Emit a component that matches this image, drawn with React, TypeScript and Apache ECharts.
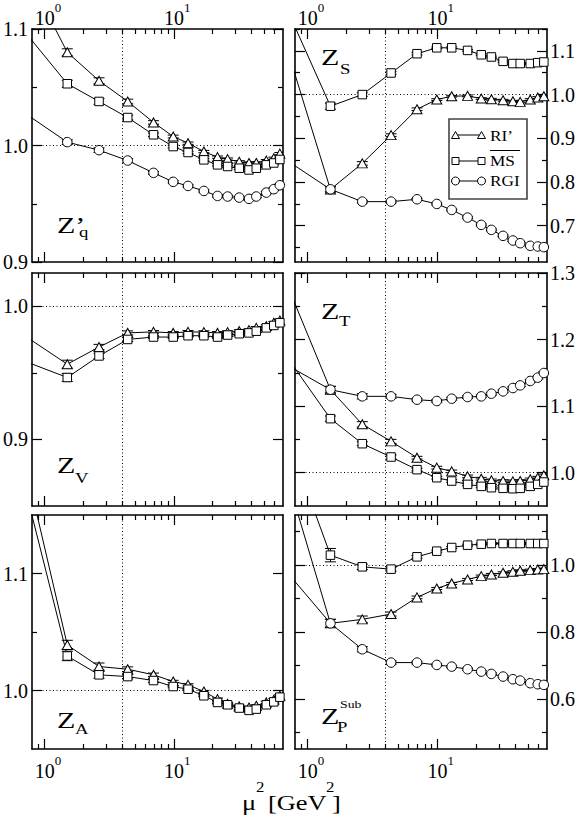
import React, { useEffect, useRef } from "react";
import * as echarts from "echarts";

// ---------- data ----------
// mu^2 [GeV^2] of the lattice momenta (first point lies left of the plotted range)
const MU2 = [0.6, 1.5, 2.64, 4.4, 6.97, 9.9, 12.9, 17.1, 21.8, 26.1, 32.1, 38.2, 43.5, 52, 59.4, 66.2];
const MU2_REF = 4;
const X_RANGE = [0.8, 70];
const X_MAJOR = [1, 10];
const X_MINOR = [0.9, 2, 3, 4, 5, 6, 7, 8, 9, 20, 30, 40, 50, 60];

// Z'_q
const ZQ_RI = [1.166, 1.080, 1.0556, 1.0378, 1.0198, 1.0077, 1.002, 0.9948, 0.990, 0.9883, 0.986, 0.985, 0.985, 0.987, 0.989, 0.993];
const ZQ_MS = [1.107, 1.053, 1.0378, 1.024, 1.0092, 0.9991, 0.994, 0.9877, 0.9834, 0.982, 0.9805, 0.979, 0.9805, 0.9834, 0.985, 0.988];
const ZQ_RGI = [1.033, 1.0029, 0.996, 0.9871, 0.9765, 0.9688, 0.9653, 0.961, 0.9567, 0.9562, 0.9553, 0.9542, 0.9562, 0.9596, 0.9625, 0.9659];
const ZQ_RI_ERR = [0, 0.003, 0.0025, 0.002, 0.0015, 0.0012, 0.001, 0.001, 0.001, 0.001, 0.001, 0.001, 0.001, 0.001, 0.001, 0.001];
const ZQ_MS_ERR = [0, 0.003, 0.0025, 0.002, 0.0015, 0.0012, 0.001, 0.001, 0.001, 0.001, 0.001, 0.001, 0.001, 0.001, 0.001, 0.001];
const ZQ_RGI_ERR = [0, 0.002, 0.002, 0.0015, 0.0012, 0.001, 0.001, 0.001, 0.001, 0.001, 0.001, 0.001, 0.001, 0.001, 0.001, 0.001];

// Z_S
const ZS_RI = [1.1665, 0.783, 0.8426, 0.9072, 0.9665, 0.9886, 0.9962, 0.997, 0.9909, 0.9894, 0.9871, 0.9848, 0.9833, 0.9886, 0.9932, 0.9962];
const ZS_MS = [1.2377, 0.9734, 1.0, 1.0494, 1.0935, 1.107, 1.107, 1.101, 1.091, 1.086, 1.076, 1.071, 1.071, 1.071, 1.073, 1.0745];
const ZS_RGI = [0.8616, 0.7833, 0.7551, 0.7551, 0.7605, 0.7498, 0.7361, 0.7186, 0.7019, 0.6905, 0.6768, 0.6662, 0.660, 0.654, 0.6525, 0.651];
const ZS_RI_ERR = [0, 0.006, 0.004, 0.003, 0.003, 0.002, 0.002, 0.002, 0.002, 0.002, 0.002, 0.002, 0.002, 0.002, 0.002, 0.002];
const ZS_MS_ERR = [0, 0.007, 0.004, 0.003, 0.003, 0.002, 0.002, 0.002, 0.002, 0.002, 0.002, 0.002, 0.002, 0.002, 0.002, 0.002];
const ZS_RGI_ERR = [0, 0.006, 0.003, 0.003, 0.002, 0.002, 0.002, 0.002, 0.002, 0.002, 0.002, 0.002, 0.002, 0.002, 0.002, 0.002];

// Z_V
const ZV_RI = [0.9823, 0.9565, 0.9694, 0.980, 0.9808, 0.980, 0.9808, 0.9806, 0.980, 0.9806, 0.9813, 0.9821, 0.9838, 0.9851, 0.9876, 0.9893];
const ZV_MS = [0.9613, 0.9465, 0.9627, 0.9751, 0.9769, 0.9769, 0.9779, 0.9779, 0.9769, 0.9784, 0.9794, 0.980, 0.9813, 0.9838, 0.9856, 0.9876];
const ZV_RI_ERR = [0, 0.003, 0.002, 0.0015, 0.001, 0.001, 0.001, 0.001, 0.001, 0.001, 0.001, 0.001, 0.001, 0.001, 0.001, 0.001];
const ZV_MS_ERR = [0, 0.003, 0.002, 0.0015, 0.001, 0.001, 0.001, 0.001, 0.001, 0.001, 0.001, 0.001, 0.001, 0.001, 0.001, 0.001];

// Z_T
const ZT_RI = [1.3127, 1.1247, 1.0727, 1.0471, 1.0226, 1.0076, 1.002, 0.9945, 0.991, 0.9885, 0.9875, 0.987, 0.9875, 0.990, 0.9925, 0.996];
const ZT_MS = [1.1911, 1.0812, 1.0436, 1.0236, 1.0046, 0.9925, 0.9875, 0.9825, 0.9795, 0.9775, 0.9765, 0.976, 0.9765, 0.9795, 0.9825, 0.986];
const ZT_RGI = [1.1687, 1.1247, 1.1147, 1.1147, 1.1097, 1.1077, 1.1112, 1.1137, 1.1147, 1.1187, 1.1222, 1.1272, 1.1312, 1.1378, 1.1428, 1.1498];
const ZT_RI_ERR = [0, 0.005, 0.004, 0.003, 0.002, 0.002, 0.002, 0.002, 0.002, 0.002, 0.002, 0.002, 0.002, 0.002, 0.002, 0.002];
const ZT_MS_ERR = [0, 0.004, 0.003, 0.003, 0.002, 0.002, 0.002, 0.002, 0.002, 0.002, 0.002, 0.002, 0.002, 0.002, 0.002, 0.002];
const ZT_RGI_ERR = [0, 0.005, 0.004, 0.003, 0.002, 0.002, 0.002, 0.002, 0.002, 0.002, 0.002, 0.002, 0.002, 0.002, 0.002, 0.002];

// Z_A
const ZA_RI = [1.228, 1.0389, 1.0205, 1.0182, 1.0134, 1.0077, 1.0048, 0.9991, 0.9926, 0.9886, 0.9864, 0.9855, 0.9869, 0.9898, 0.992, 0.9955];
const ZA_MS = [1.2045, 1.0295, 1.0134, 1.0119, 1.0085, 1.0034, 1.0011, 0.9955, 0.9898, 0.9878, 0.985, 0.983, 0.9841, 0.9878, 0.9903, 0.9943];
const ZA_RI_ERR = [0, 0.004, 0.003, 0.002, 0.0015, 0.001, 0.001, 0.001, 0.001, 0.001, 0.001, 0.001, 0.001, 0.001, 0.001, 0.001];
const ZA_MS_ERR = [0, 0.004, 0.003, 0.002, 0.0015, 0.001, 0.001, 0.001, 0.001, 0.001, 0.001, 0.001, 0.001, 0.001, 0.001, 0.001];

// Z_P^Sub
const ZP_RI = [1.346, 0.8259, 0.8378, 0.8537, 0.9035, 0.9303, 0.9453, 0.9572, 0.9672, 0.9721, 0.9771, 0.9801, 0.9831, 0.9851, 0.9871, 0.9881];
const ZP_MS = [1.454, 1.0299, 0.995, 0.988, 1.0249, 1.0418, 1.0527, 1.0597, 1.0627, 1.0647, 1.0647, 1.0647, 1.0647, 1.0647, 1.0647, 1.0647];
const ZP_RGI = [1.008, 0.8259, 0.7483, 0.7085, 0.7085, 0.7015, 0.6965, 0.6886, 0.6816, 0.6746, 0.6667, 0.6587, 0.6547, 0.6468, 0.6438, 0.6418];
const ZP_RI_ERR = [0, 0.012, 0.01, 0.006, 0.004, 0.003, 0.003, 0.003, 0.003, 0.003, 0.003, 0.003, 0.003, 0.003, 0.003, 0.003];
const ZP_MS_ERR = [0, 0.02, 0.008, 0.006, 0.004, 0.003, 0.003, 0.003, 0.003, 0.003, 0.003, 0.003, 0.003, 0.003, 0.003, 0.003];
const ZP_RGI_ERR = [0, 0.012, 0.008, 0.005, 0.004, 0.003, 0.003, 0.003, 0.003, 0.003, 0.003, 0.003, 0.003, 0.003, 0.003, 0.003];

// y-axis ranges and ticks
const ZQ_RANGE = [0.9, 1.1];
const ZQ_TICKS = [0.9, 1.0, 1.1];
const ZQ_MINOR = [0.95, 1.05];
const ZS_RANGE = [0.617, 1.15];
const ZS_TICKS = [0.7, 0.8, 0.9, 1.0, 1.1];
const ZS_MINOR = [0.65, 0.75, 0.85, 0.95, 1.05, 1.15];
const ZV_RANGE = [0.85, 1.025];
const ZV_TICKS = [0.9, 1.0];
const ZV_MINOR = [0.95];
const ZT_RANGE = [0.95, 1.3];
const ZT_TICKS = [1.0, 1.1, 1.2, 1.3];
const ZT_MINOR = [1.05, 1.15, 1.25];
const ZA_RANGE = [0.95, 1.15];
const ZA_TICKS = [1.0, 1.1];
const ZA_MINOR = [1.05];
const ZP_RANGE = [0.45, 1.15];
const ZP_TICKS = [0.6, 0.8, 1.0];
const ZP_MINOR = [0.5, 0.7, 0.9, 1.1];

const REF_LINE = 1.0;

// ---------- chart building ----------
const FONT = "Liberation Serif";
const lg = (v: number) => Math.log10(v);

type SeriesDef = { vals: number[]; err: number[]; kind: "tri" | "sq" | "ci"; name: string };
type PanelDef = { range: number[]; major: number[]; minor: number[]; series: SeriesDef[] };

const PANELS: PanelDef[] = [
  { range: ZQ_RANGE, major: ZQ_TICKS, minor: ZQ_MINOR, series: [
    { vals: ZQ_RI, err: ZQ_RI_ERR, kind: "tri", name: "RI’" },
    { vals: ZQ_MS, err: ZQ_MS_ERR, kind: "sq", name: "MS" },
    { vals: ZQ_RGI, err: ZQ_RGI_ERR, kind: "ci", name: "RGI" }] },
  { range: ZS_RANGE, major: ZS_TICKS, minor: ZS_MINOR, series: [
    { vals: ZS_RI, err: ZS_RI_ERR, kind: "tri", name: "RI’" },
    { vals: ZS_MS, err: ZS_MS_ERR, kind: "sq", name: "MS" },
    { vals: ZS_RGI, err: ZS_RGI_ERR, kind: "ci", name: "RGI" }] },
  { range: ZV_RANGE, major: ZV_TICKS, minor: ZV_MINOR, series: [
    { vals: ZV_RI, err: ZV_RI_ERR, kind: "tri", name: "RI’" },
    { vals: ZV_MS, err: ZV_MS_ERR, kind: "sq", name: "MS" }] },
  { range: ZT_RANGE, major: ZT_TICKS, minor: ZT_MINOR, series: [
    { vals: ZT_RI, err: ZT_RI_ERR, kind: "tri", name: "RI’" },
    { vals: ZT_MS, err: ZT_MS_ERR, kind: "sq", name: "MS" },
    { vals: ZT_RGI, err: ZT_RGI_ERR, kind: "ci", name: "RGI" }] },
  { range: ZA_RANGE, major: ZA_TICKS, minor: ZA_MINOR, series: [
    { vals: ZA_RI, err: ZA_RI_ERR, kind: "tri", name: "RI’" },
    { vals: ZA_MS, err: ZA_MS_ERR, kind: "sq", name: "MS" }] },
  { range: ZP_RANGE, major: ZP_TICKS, minor: ZP_MINOR, series: [
    { vals: ZP_RI, err: ZP_RI_ERR, kind: "tri", name: "RI’" },
    { vals: ZP_MS, err: ZP_MS_ERR, kind: "sq", name: "MS" },
    { vals: ZP_RGI, err: ZP_RGI_ERR, kind: "ci", name: "RGI" }] },
];

const SYMBOL: Record<string, { symbol: string; size: any }> = {
  tri: { symbol: "triangle", size: [10, 9] },
  sq: { symbol: "rect", size: 8.5 },
  ci: { symbol: "circle", size: 9.5 },
};

const AXIS_LINE = { show: true, onZero: false, lineStyle: { color: "#000", width: 1.6 } };
const NO_LINE = { show: false, onZero: false };
const TICK_STYLE = { color: "#000", width: 1.2 };

function buildOption() {
  const grid: any[] = [];
  const xAxis: any[] = [];
  const yAxis: any[] = [];
  const series: any[] = [];
  const gridLeft = [31, 295];
  const gridTop = [29, 273, 515];
  const gridH = [233, 233, 234];

  PANELS.forEach((p, gi) => {
    const col = gi % 2;
    const row = Math.floor(gi / 2);
    grid.push({ left: gridLeft[col], top: gridTop[row], width: 252, height: gridH[row], show: false });

    // x axes: bottom major/minor, top major/minor
    (["bottom", "top"] as const).forEach((pos) => {
      const showLab = (pos === "bottom" && row === 2) || (pos === "top" && row === 0);
      const base = { type: "value", gridIndex: gi, position: pos, min: lg(X_RANGE[0]), max: lg(X_RANGE[1]), splitLine: { show: false } };
      xAxis.push({
        ...base,
        axisLine: AXIS_LINE,
        axisTick: { show: true, inside: true, length: 10, customValues: X_MAJOR.map(lg), lineStyle: TICK_STYLE },
        axisLabel: showLab ? {
          show: true,
          customValues: X_MAJOR.map(lg),
          margin: pos === "top" ? 1 : 5,
          formatter: (v: number) => `{b|10}{s|${Math.round(v)}}`,
          rich: {
            b: { fontFamily: FONT, fontSize: 20, color: "#000", lineHeight: 27, verticalAlign: "bottom", padding: [0, 0, 0, 7] },
            s: { fontFamily: FONT, fontSize: 13, color: "#000", verticalAlign: "top" },
          },
        } : { show: false },
      });
      xAxis.push({
        ...base,
        axisLine: NO_LINE,
        axisTick: { show: true, inside: true, length: 5, customValues: X_MINOR.map(lg), lineStyle: TICK_STYLE },
        axisLabel: { show: false },
      });
    });

    // y axes: left major/minor, right major/minor
    (["left", "right"] as const).forEach((pos) => {
      const showLab = (pos === "left" && col === 0) || (pos === "right" && col === 1);
      const base = { type: "value", gridIndex: gi, position: pos, min: p.range[0], max: p.range[1], splitLine: { show: false } };
      yAxis.push({
        ...base,
        axisLine: AXIS_LINE,
        axisTick: { show: true, inside: true, length: 10, customValues: p.major, lineStyle: TICK_STYLE },
        axisLabel: showLab ? {
          show: true,
          customValues: p.major,
          margin: pos === "left" ? 4 : 3,
          formatter: (v: number) => v.toFixed(1),
          fontFamily: FONT, fontSize: 20, color: "#000",
        } : { show: false },
      });
      yAxis.push({
        ...base,
        axisLine: NO_LINE,
        axisTick: { show: true, inside: true, length: 5, customValues: p.minor, lineStyle: TICK_STYLE },
        axisLabel: { show: false },
      });
    });

    const xi = gi * 4;
    const yi = gi * 4;
    p.series.forEach((s, si) => {
      const sym = SYMBOL[s.kind];
      const line: any = {
        type: "line",
        name: s.name,
        xAxisIndex: xi,
        yAxisIndex: yi,
        data: MU2.map((m, i) => [lg(m), s.vals[i]]),
        symbol: sym.symbol,
        symbolSize: sym.size,
        showAllSymbol: true,
        clip: true,
        z: 3,
        silent: true,
        itemStyle: { color: "#fff", borderColor: "#000", borderWidth: 1 },
        lineStyle: { color: "#000", width: 1 },
      };
      if (si === 0) {
        line.markLine = {
          silent: true,
          z: 1,
          symbol: ["none", "none"],
          label: { show: false },
          lineStyle: { color: "#000", width: 1, type: [1, 2.5] },
          data: [{ yAxis: REF_LINE }, { xAxis: lg(MU2_REF) }],
        };
      }
      series.push(line);
      series.push({
        type: "custom",
        xAxisIndex: xi,
        yAxisIndex: yi,
        clip: true,
        silent: true,
        z: 2,
        encode: { x: 0, y: [1, 2] },
        data: MU2.map((m, i) => [lg(m), s.vals[i] - s.err[i], s.vals[i] + s.err[i]]).filter((_, i) => s.err[i] > 0),
        renderItem: (params: any, api: any) => {
          const x = api.value(0);
          const a = api.coord([x, api.value(1)]);
          const b = api.coord([x, api.value(2)]);
          const w = 5.5;
          const st = { stroke: "#000", lineWidth: 1 };
          return {
            type: "group",
            children: [
              { type: "line", shape: { x1: a[0], y1: a[1], x2: b[0], y2: b[1] }, style: st },
              { type: "line", shape: { x1: a[0] - w, y1: a[1], x2: a[0] + w, y2: a[1] }, style: st },
              { type: "line", shape: { x1: b[0] - w, y1: b[1], x2: b[0] + w, y2: b[1] }, style: st },
            ],
          };
        },
      });
    });
  });

  // ---------- texts and legend ----------
  const SX = 1.25;
  const txt = (text: string, x: number, baseline: number, size: number, sx = SX) => ({
    type: "text",
    x,
    y: baseline - 0.34 * size,
    scaleX: sx,
    silent: true,
    style: { text, fill: "#000", fontFamily: FONT, fontSize: size, textAlign: "left", verticalAlign: "middle" },
  });

  const graphic: any[] = [
    // panel labels
    txt("Z’", 57, 233, 24), txt("q", 79, 237, 15),
    txt("Z", 321, 65, 24), txt("S", 340, 74, 15),
    txt("Z", 57, 473, 24), txt("V", 75, 483, 15),
    txt("Z", 321, 319, 24), txt("T", 339, 326, 15),
    txt("Z", 57, 728, 24), txt("A", 75, 734, 15),
    txt("Z", 321, 724, 24), txt("P", 337, 732, 15), txt("Sub", 340, 708, 11),
    // axis title
    txt("μ", 242, 810, 22, 1.2), txt("2", 256, 792, 14, 1.2),
    txt("[GeV", 268, 810, 22, 1.2), txt("2", 326, 792, 14, 1.2), txt("]", 332, 810, 22, 1.2),
  ];

  // legend box
  const lx = 449, ly = 119, lw = 78, lh = 80;
  const ink = { stroke: "#000", lineWidth: 1, fill: "#fff" };
  const rows = [135, 161, 181];
  const s1 = 455.5, s2 = 481.5;
  graphic.push({ type: "rect", shape: { x: lx, y: ly, width: lw, height: lh }, style: { fill: "#fff", stroke: "#444", lineWidth: 1.6 }, silent: true, z: 10 });
  rows.forEach((cy) => {
    graphic.push({ type: "line", shape: { x1: s1, y1: cy, x2: s2, y2: cy }, style: { stroke: "#000", lineWidth: 1 }, silent: true, z: 11 });
  });
  [s1, s2].forEach((cx) => {
    graphic.push({ type: "polygon", shape: { points: [[cx - 4, rows[0] + 3.5], [cx + 4, rows[0] + 3.5], [cx, rows[0] - 3.5]] }, style: ink, silent: true, z: 12 });
    graphic.push({ type: "rect", shape: { x: cx - 3.5, y: rows[1] - 3.5, width: 7, height: 7 }, style: ink, silent: true, z: 12 });
    graphic.push({ type: "circle", shape: { cx, cy: rows[2], r: 4 }, style: ink, silent: true, z: 12 });
  });
  const lt = (t: any) => ({ ...t, z: 12 });
  graphic.push(lt(txt("RI’", 490, 140.5, 15, 1.15)));
  graphic.push(lt(txt("MS", 490, 166, 15, 1.15)));
  graphic.push(lt(txt("RGI", 490, 186, 15, 1.15)));
  graphic.push({ type: "line", shape: { x1: 490, y1: 150.5, x2: 520, y2: 150.5 }, style: { stroke: "#000", lineWidth: 1 }, silent: true, z: 12 });

  return {
    animation: false,
    backgroundColor: "#fff",
    grid,
    xAxis,
    yAxis,
    series,
    graphic,
  };
}

export default function App() {
  const ref = useRef<HTMLDivElement>(null);
  useEffect(() => {
    if (!ref.current) return;
    const chart = echarts.init(ref.current, undefined, { renderer: "svg" });
    chart.setOption(buildOption() as any);
    return () => chart.dispose();
  }, []);
  return (
    <div
      ref={ref}
      style={{ position: "absolute", left: 0, top: 0, width: 579, height: 817, background: "#fff" }}
    />
  );
}
